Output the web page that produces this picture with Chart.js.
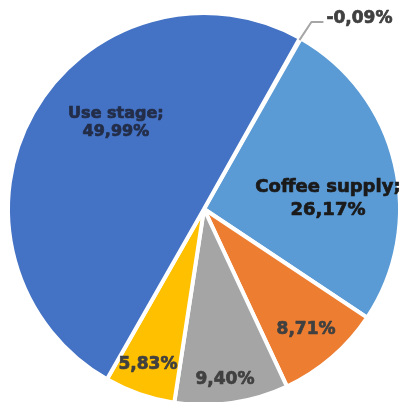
<!DOCTYPE html>
<html>
<head>
<meta charset="utf-8">
<script src="https://cdn.jsdelivr.net/npm/chart.js@4"></script>
<style>
  html, body { margin: 0; padding: 0; background: #fff; }
  #wrap { position: relative; width: 406px; height: 402px; overflow: hidden; }
  #chart { position: absolute; left: -6px; top: -1px; }
</style>
</head>
<body>
<div id="wrap"><canvas id="chart" width="420" height="420"></canvas></div>
<script>
// life cycle shares, clockwise from the small negative slice
const stages = ['Other', 'Coffee supply', 'Stage 3', 'Stage 4', 'Stage 5', 'Use stage'];
const shares = [-0.09, 26.17, 8.71, 9.40, 5.83, 49.99];
const colors = ['#A5A5A5', '#5B9BD5', '#ED7D31', '#A5A5A5', '#FFC000', '#4472C4'];
const showName = [false, true, false, false, false, true];

// label placement relative to the pie (fractions of radius) and text style
const labelPos = [
  { outside: true, size: 17, color: '#404040' },
  { x: 0.639, y: -0.052, size: 18, color: '#1a1a1a', lh: 23 },
  { x: 0.526, y: 0.621, size: 17, color: '#404040' },
  { x: 0.108, y: 0.879, size: 17, color: '#404040' },
  { x: -0.289, y: 0.801, size: 17, color: '#404040' },
  { x: -0.454, y: -0.446, size: 16, color: '#232d48', lh: 18 }
];

function fmt(v) {
  return v.toFixed(2).replace('.', ',') + '%';
}

// bold text with a thin outline so it reads heavier
function boldText(c, text, x, y) {
  c.strokeText(text, x, y);
  c.fillText(text, x, y);
}

const pieLabels = {
  id: 'pieLabels',
  afterDatasetsDraw(chart) {
    const c = chart.ctx;
    const arcs = chart.getDatasetMeta(0).data;
    const cx = arcs[0].x, cy = arcs[0].y, r = arcs[0].outerRadius - 2;
    c.save();
    c.textAlign = 'center';
    c.textBaseline = 'middle';
    c.lineWidth = 0.7;
    c.lineJoin = 'round';
    shares.forEach((v, i) => {
      const p = labelPos[i];
      const text = fmt(v);
      c.font = 'bold ' + p.size + 'px "DejaVu Sans"';
      c.fillStyle = p.color;
      c.strokeStyle = p.color;
      if (p.outside) {
        // leader line from the slice edge up to the label
        const a = (arcs[i].startAngle + arcs[i].endAngle) / 2;
        const x0 = cx + Math.cos(a) * r, y0 = cy + Math.sin(a) * r;
        const ly = cy - 187;
        c.save();
        c.strokeStyle = '#A6A6A6';
        c.lineWidth = 2;
        c.beginPath();
        c.moveTo(x0, y0);
        c.lineTo(x0 + 12, ly);
        c.lineTo(x0 + 24, ly);
        c.stroke();
        c.restore();
        c.textAlign = 'left';
        boldText(c, text, x0 + 27, cy - 190);
        c.textAlign = 'center';
        return;
      }
      const x = cx + p.x * r, y = cy + p.y * r;
      if (showName[i]) {
        boldText(c, stages[i] + ';', x, y - p.lh / 2);
        boldText(c, text, x, y + p.lh / 2);
      } else {
        boldText(c, text, x, y);
      }
    });
    c.restore();
  }
};

new Chart(document.getElementById('chart'), {
  type: 'pie',
  data: {
    labels: stages,
    datasets: [{
      data: shares.map(v => Math.abs(v)),
      backgroundColor: colors,
      borderColor: '#ffffff',
      borderWidth: 4
    }]
  },
  options: {
    responsive: false,
    animation: false,
    rotation: 29.3,
    layout: { padding: 12 },
    plugins: {
      legend: { display: false },
      tooltip: { enabled: false }
    }
  },
  plugins: [pieLabels]
});
</script>
</body>
</html>
